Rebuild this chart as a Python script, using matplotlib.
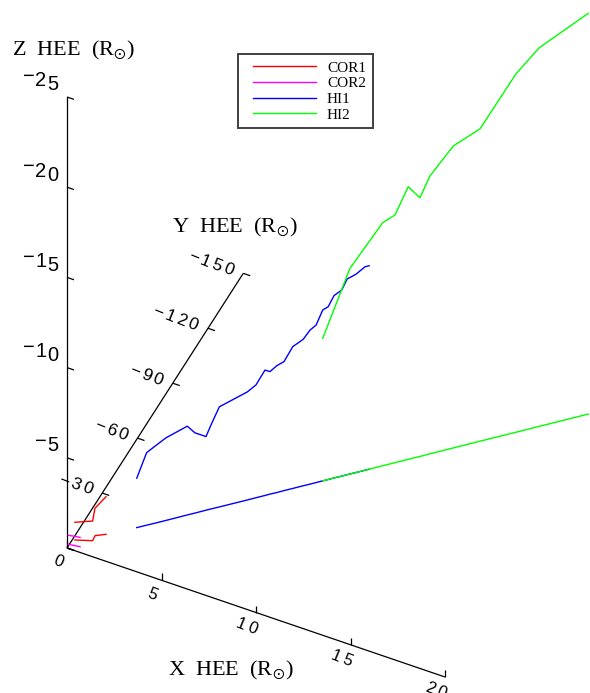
import numpy as np
import matplotlib
matplotlib.use("Agg")
import matplotlib.pyplot as plt
from matplotlib.lines import Line2D
from matplotlib.legend_handler import HandlerLine2D

plt.rcParams["mathtext.fontset"] = "stix"

# CME track in HEE coordinates (solar radii)
cor1_x = [0.12, 0.91, 0.87, 1.31]
cor1_y = [-4.8, -7.2, -9.8, -12.1]
cor1_z = [-0.98, -1.09, -1.52, -2.08]

cor2_x = [-0.05, 0.53]
cor2_y = [-1.86, -2.57]
cor2_z = [-0.50, -0.52]

hi1_x = [2.46, 2.82, 3.13, 3.53, 4.30, 4.58, 4.98, 5.19, 5.47, 6.49, 6.80, 7.13,
         7.31, 7.56, 7.82, 8.14, 8.52, 8.77, 8.99, 9.23, 9.43, 9.64, 9.92, 10.12,
         10.44, 10.77, 10.92]
hi1_y = [-19.8, -22.4, -24.6, -27.5, -33.2, -35.2, -38.2, -39.7, -41.7, -49.1,
         -51.4, -53.8, -55.2, -56.9, -58.9, -61.2, -64.0, -65.8, -67.4, -69.2,
         -70.6, -72.2, -74.2, -75.7, -78.0, -80.4, -81.5]
hi1_z = [-2.74, -4.02, -4.27, -4.58, -4.92, -4.45, -4.08, -4.74, -5.55, -5.99,
         -6.25, -6.95, -6.79, -7.03, -7.15, -7.86, -8.12, -8.54, -8.73, -9.47,
         -9.58, -10.11, -10.31, -10.85, -10.99, -11.28, -11.28]

hi2_x = [9.23, 10.22, 11.41, 11.86, 12.34, 12.77, 13.13, 13.98, 14.95, 16.26, 17.11, 18.89]
hi2_y = [-69.2, -76.4, -85.1, -88.4, -91.9, -95.0, -97.7, -103.9, -111.0, -120.5, -126.7, -139.7]
hi2_z = [-7.90, -11.40, -13.47, -13.73, -15.11, -14.34, -15.40, -16.74, -17.31, -19.86, -20.99, -22.21]

instruments = ["COR1", "COR2", "HI1", "HI2"]
colors = ["#ff0000", "#ff00ff", "#0000ff", "#00ff00"]

x_ticks = [0, 5, 10, 15, 20]
y_ticks = [0, -30, -60, -90, -120, -150]
z_ticks = [0, -5, -10, -15, -20, -25]

# oblique projection of the 3D box onto the page (pixels)
ORIGIN = np.array([67.0, 548.0])
EX = np.array([18.9, 6.45])
EY = np.array([-1.175, 1.831])
EZ = np.array([0.0, 18.04])
BASE = np.array([0.946, 0.323])


def proj(x, y, z):
    x = np.atleast_1d(np.asarray(x, float))
    y = np.atleast_1d(np.asarray(y, float))
    z = np.atleast_1d(np.asarray(z, float))
    sx = ORIGIN[0] + x * EX[0] + y * EY[0] + z * EZ[0]
    sy = ORIGIN[1] + x * EX[1] + y * EY[1] + z * EZ[1]
    return sx, sy


def slanted(ax, s, cx, cy, adv, rot, size, anchor="last"):
    n = len(s)
    for i, ch in enumerate(s):
        k = i - (n - 1) if anchor == "last" else i - (n - 1) / 2
        ax.text(cx + k * adv * BASE[0], cy + k * adv * BASE[1], ch,
                ha="center", va="center", rotation=rot, fontsize=size,
                family="Liberation Sans", rotation_mode="anchor")


fig = plt.figure(figsize=(5.9, 6.93), dpi=100)
ax = fig.add_axes([0, 0, 1, 1])
ax.set_xlim(0, 590)
ax.set_ylim(693, 0)
ax.axis("off")

# axes of the box
axkw = dict(color="black", lw=0.9, solid_capstyle="butt")
ax.plot(*proj([0, 0], [0, 0], [0, -25]), **axkw)
ax.plot(*proj([0, 0], [0, -150], [0, 0]), **axkw)
ax.plot(*proj([0, 20], [0, 0], [0, 0]), **axkw)

for z in z_ticks:
    ax.plot(*proj([0, 0.37], [0, 0], [z, z]), **axkw)
    if z != 0:
        tx, ty = proj(0, 0, z)
        slanted(ax, "\u2212" + str(-z), tx[0] - 14, ty[0] - 12, 12.8, 0, 14.5)
for y in y_ticks:
    ax.plot(*proj([0, 0.37], [y, y], [0, 0]), **axkw)
    if y != 0:
        tx, ty = proj(0, y, 0)
        slanted(ax, "\u2212" + str(-y), tx[0] - 15, ty[0] - 4, 12.3, -22, 12.5)
for x in x_ticks:
    ax.plot(*proj([x, x], [0, 0], [0, -0.38]), **axkw)
    tx, ty = proj(x, 0, 0)
    slanted(ax, str(x), tx[0] - 9, ty[0] + 14, 12.3, -22, 12, anchor="center")

tkw = dict(fontsize=16, family="Liberation Serif", ha="left", va="baseline")
ax.text(12, 55, r"Z  HEE  (R$_{\odot}$)", **tkw)
ax.text(172, 232, r"Y  HEE  (R$_{\odot}$)", **tkw)
ax.text(168, 675, r"X  HEE  (R$_{\odot}$)", **tkw)

tracks = [(cor1_x, cor1_y, cor1_z), (cor2_x, cor2_y, cor2_z),
          (hi1_x, hi1_y, hi1_z), (hi2_x, hi2_y, hi2_z)]
handles = []
for (xs, ys, zs), name, c in zip(tracks, instruments, colors):
    h, = ax.plot(*proj(xs, ys, zs), color=c, lw=1.0, label=name)
    ax.plot(*proj(xs, ys, np.zeros(len(xs))), color=c, lw=1.0)
    handles.append(h)

leg = ax.legend(handles=handles, loc="upper left", bbox_to_anchor=(238, 54),
                bbox_transform=ax.transData, borderaxespad=0, borderpad=0.45,
                handlelength=4.65, handletextpad=0.72, labelspacing=0.13,
                fancybox=False, framealpha=1, edgecolor="#404040",
                prop={"family": "Liberation Serif", "size": 11},
                handler_map={Line2D: HandlerLine2D(xpad=0.53)})
leg.get_frame().set_linewidth(1.4)

fig.savefig("out.png", dpi=100)
